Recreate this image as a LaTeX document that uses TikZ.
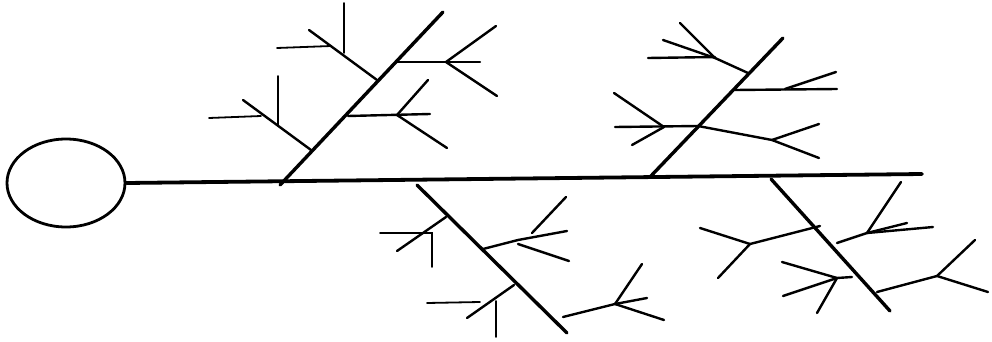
\documentclass[tikz,border=0pt]{standalone}
\usepackage{amsmath,amssymb}
\usepackage{tikz}
\usetikzlibrary{shapes.geometric}

\begin{document}
\begin{tikzpicture}[x=1pt,y=-1pt,line cap=round,
    spine/.style={line width=3.8pt},
    bone/.style={line width=3.4pt},
    branch/.style={line width=2.4pt},
    twig/.style={line width=1.8pt}]
      \useasboundingbox (0,0) rectangle (992,342);
      % head and spine
      \node[draw,line width=2.8pt,ellipse,minimum width=118pt,minimum height=88pt,inner sep=0pt] (head) at (66,183) {};
      \coordinate (tail) at (922,174);
      \draw[spine] (head.east) -- (tail);
      % main bones
      \coordinate (ul0) at (280,185); \coordinate (ul1) at (443,12);
      \coordinate (ur0) at (650,177); \coordinate (ur1) at (783,38);
      \coordinate (ll0) at (417,185); \coordinate (ll1) at (567,333);
      \coordinate (lr0) at (771,179); \coordinate (lr1) at (890,311);
      \draw[bone] (ul0) -- (ul1);
      \draw[bone] (ur0) -- (ur1);
      \draw[bone] (ll0) -- (ll1);
      \draw[bone] (lr0) -- (lr1);
      % upper left bone
      \draw[branch] (377,80) -- (309,30);
      \draw[twig] (344,3) -- (344,53);
      \draw[twig] (277,48) -- (331,46);
      \draw[branch] (311,150) -- (243,100);
      \draw[twig] (278,76) -- (278,126);
      \draw[twig] (209,118) -- (261,116);
      \draw[branch] (397,62) -- (480,62);
      \draw[branch] (446,62) -- (496,26);
      \draw[branch] (446,62) -- (497,96);
      \draw[branch] (348,116) -- (430,114);
      \draw[branch] (397,115) -- (428,80);
      \draw[branch] (397,115) -- (447,148);
      % upper right bone
      \draw[branch] (748,73) -- (715,58) -- (663,40);
      \draw[branch] (648,58) -- (715,57);
      \draw[branch] (680,23) -- (715,58);
      \draw[branch] (735,90) -- (837,89);
      \draw[branch] (785,89) -- (836,72);
      \draw[branch] (698,126) -- (615,127);
      \draw[branch] (664,127) -- (614,93);
      \draw[branch] (664,127) -- (632,145);
      \draw[branch] (698,126) -- (772,140);
      \draw[branch] (772,140) -- (819,124);
      \draw[branch] (772,140) -- (819,158);
      % lower left bone
      \draw[branch] (446,217) -- (397,251);
      \draw[twig] (380,233) -- (432,233) -- (432,267);
      \draw[branch] (483,249) -- (518,240) -- (567,231);
      \draw[branch] (518,244) -- (569,261);
      \draw[branch] (532,233) -- (566,197);
      \draw[branch] (514,285) -- (467,318);
      \draw[twig] (496,301) -- (496,337);
      \draw[twig] (427,303) -- (480,302);
      \draw[branch] (563,317) -- (615,304);
      \draw[branch] (615,304) -- (642,264);
      \draw[branch] (615,304) -- (647,298);
      \draw[branch] (615,304) -- (664,320);
      % lower right bone
      \draw[branch] (820,226) -- (750,244);
      \draw[branch] (750,244) -- (700,228);
      \draw[branch] (750,244) -- (718,278);
      \draw[branch] (837,243) -- (867,233);
      \draw[branch] (867,233) -- (901,182);
      \draw[branch] (867,233) -- (933,227);
      \draw[branch] (867,233) -- (907,223);
      \draw[branch] (852,277) -- (837,278);
      \draw[branch] (837,278) -- (782,262);
      \draw[branch] (837,278) -- (783,296);
      \draw[branch] (837,278) -- (817,313);
      \draw[branch] (877,292) -- (937,276);
      \draw[branch] (937,276) -- (975,240);
      \draw[branch] (937,276) -- (988,292);
\end{tikzpicture}
\end{document}
